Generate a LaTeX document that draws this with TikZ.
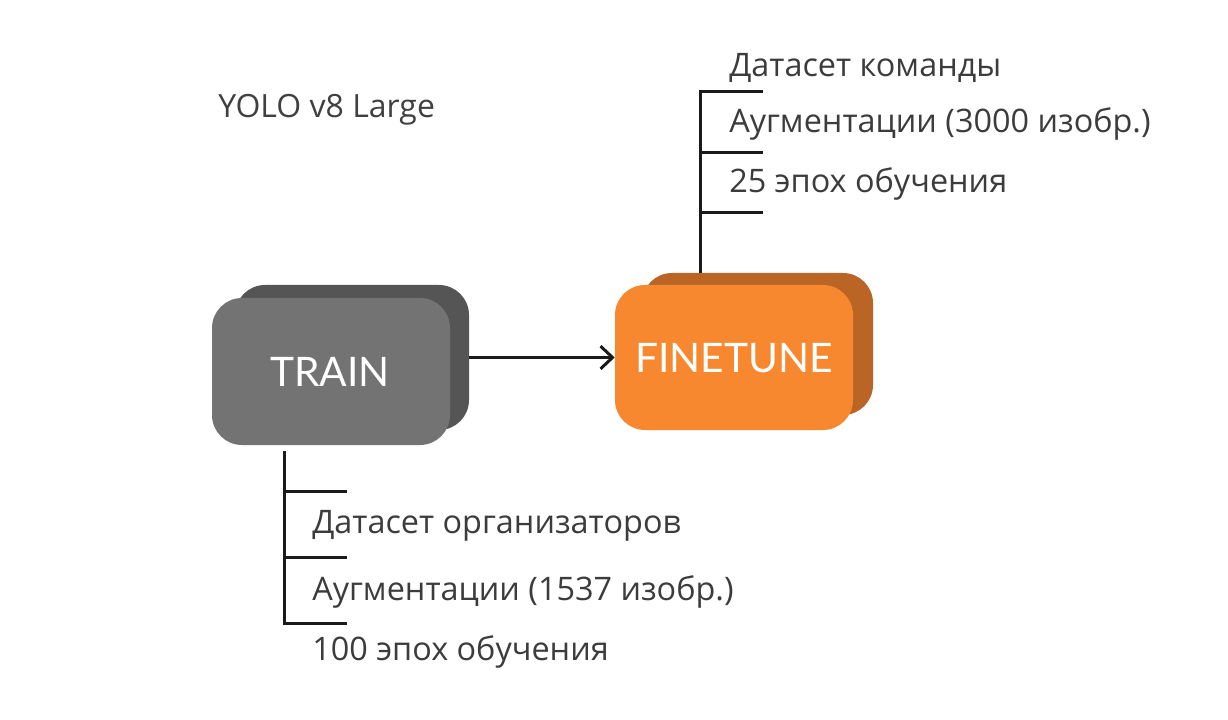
\documentclass[tikz,border=0pt]{standalone}
\usepackage{fontspec}
\setmainfont{Open Sans}
\newfontfamily\labelfont{Lato}
\usetikzlibrary{arrows.meta}
\definecolor{trainfront}{HTML}{737373}
\definecolor{trainback}{HTML}{555555}
\definecolor{finefront}{HTML}{F7882F}
\definecolor{fineback}{HTML}{BA6526}
\definecolor{txt}{HTML}{3C3C3C}
\definecolor{ln}{HTML}{1A1A1A}
\tikzset{
  boxbase/.style={rectangle, rounded corners=22.5pt, inner sep=0pt, draw=none},
  boxlabel/.style={text=white, font=\labelfont\fontsize{30.5}{34}\selectfont},
  item/.style={anchor=base west, inner sep=0pt, text=txt, font=\fontsize{24.3}{27}\selectfont},
  bracket/.style={draw=ln, line width=2.25pt},
  conn/.style={draw=ln, line width=2.25pt, -{Straight Barb[length=9pt,width=17pt,line width=2.25pt]}}
}
\begin{document}
\begin{tikzpicture}[x=0.75pt,y=-0.75pt]
\useasboundingbox (0,0) rectangle (1228,720);
% TRAIN
\node[boxbase, fill=trainback, minimum width=175.5pt, minimum height=108.75pt] (tb) at (352,357.5) {};
\node[boxbase, fill=trainfront, minimum width=178.5pt, minimum height=110.25pt] (tf) at (331,371.5) {};
\node[boxlabel] (tl) at (330,372) {TRAIN};
% FINETUNE
\node[boxbase, fill=fineback, minimum width=173.25pt, minimum height=106.5pt] (fb) at (757.5,344) {};
\node[boxbase, fill=finefront, minimum width=178.5pt, minimum height=108.75pt] (ff) at (734,357.5) {};
\node[boxlabel] (fl) at (734,358) {FINETUNE};
% arrow
\draw[conn] (tb.east |- 0,357.5) -- (ff.west);
% title
\node[item, font=\fontsize{24}{27}\selectfont, text=black!75] (title) at (218,118) {YOLO v8 Large};
% top bracket
\coordinate (t0) at (700,92);
\coordinate (t1) at (700,153);
\coordinate (t2) at (700,213);
\draw[bracket] (763,92) -- (t0) -- (fb.north -| t0);
\draw[bracket] (t1) -- (763,153);
\draw[bracket] (t2) -- (763,213);
\node[item] (a1) at (729,77) {Датасет команды};
\node[item] (a2) at (729,133) {Аугментации (3000 изобр.)};
\node[item] (a3) at (729,193) {25 эпох обучения};
% bottom bracket
\coordinate (b0) at (284,623);
\coordinate (b1) at (284,491);
\coordinate (b2) at (284,557);
\draw[bracket] (tf.south -| b0) ++(0,6) -- (b0) -- (347,623);
\draw[bracket] (b1) -- (347,491);
\draw[bracket] (b2) -- (347,557);
\node[item] (c1) at (312,533) {Датасет организаторов};
\node[item] (c2) at (312,600) {Аугментации (1537 изобр.)};
\node[item] (c3) at (312,660) {100 эпох обучения};
\end{tikzpicture}
\end{document}
